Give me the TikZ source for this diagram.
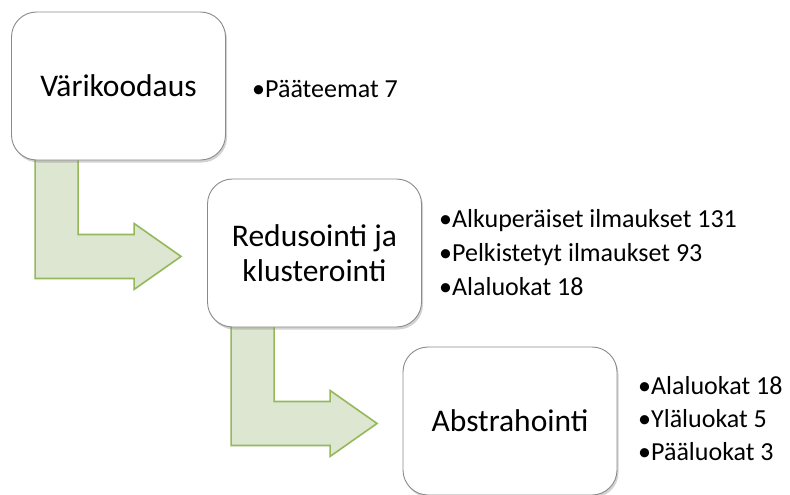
\documentclass[tikz,border=0pt]{standalone}
\usepackage{fontspec}
\setmainfont{Carlito}
\usetikzlibrary{shadows, backgrounds, positioning}
\definecolor{arrowfill}{HTML}{DCE6D0}
\definecolor{arrowline}{HTML}{94B85A}
\definecolor{boxline}{HTML}{8A8A8A}
\tikzset{
  stage/.style={rectangle, rounded corners=25pt, draw=boxline, line width=0.9pt, fill=white, minimum width=214pt, minimum height=148pt, align=center, font=\fontsize{31.5}{35}\selectfont, drop shadow={shadow xshift=1.5pt, shadow yshift=-2.5pt, opacity=0.35}}, % SmartArt step box
  fact/.style={anchor=base west, inner sep=0pt, font=\fontsize{26}{32}\selectfont}, % bullet line
  bentarrow/.pic={
    \draw[draw=arrowline, fill=arrowfill, line width=1.6pt, line join=miter]
      (24,-10) -- (67,-10) -- (67,74) -- (123,74) -- (123,63) -- (170,96)
      -- (123,129) -- (123,118) -- (24,118) -- cycle;
  }
}
\begin{document}
\begin{tikzpicture}[x=1pt, y=-1pt]
    \useasboundingbox (0,0) rectangle (790,495);

    % Steps
    \node[stage] (koodaus) at (118.5,86) {Värikoodaus};
    \node[stage] (redusointi) at (314.5,253) {Redusointi ja\\klusterointi};
    \node[stage] (abstrahointi) at (510,421) {Abstrahointi};

    % Facts
    \node[fact] (teemat) at (252,97) {•Pääteemat 7};

    \node[fact] (alkup) at (439,227) {•Alkuperäiset ilmaukset 131};
    \node[fact] (pelk) at (439,261) {•Pelkistetyt ilmaukset 93};
    \node[fact] (alaluokat) at (439,295) {•Alaluokat 18};

    \node[fact] (alaluokatB) at (638,394) {•Alaluokat 18};
    \node[fact] (ylaluokat) at (638,427) {•Yläluokat 5};
    \node[fact] (paaluokat) at (638,460) {•Pääluokat 3};

    % Arrows
    \begin{scope}[on background layer]
      \pic at (koodaus.south west) {bentarrow};
      \pic at (redusointi.south west) {bentarrow};
    \end{scope}

\end{tikzpicture}
\end{document}
